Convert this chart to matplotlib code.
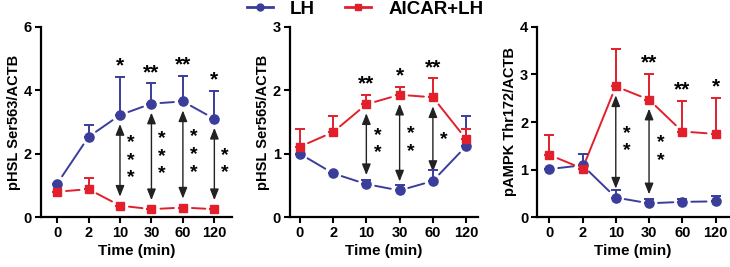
import matplotlib
matplotlib.use("Agg")
import matplotlib.pyplot as plt
from matplotlib.lines import Line2D

plt.rcParams['font.family'] = ['Liberation Sans', 'DejaVu Sans']
plt.rcParams['font.weight'] = 'bold'

times = ["0", "2", "10", "30", "60", "120"]

# Panel 1: pHSL Ser563/ACTB
p1_lh = [1.05, 2.53, 3.22, 3.58, 3.65, 3.10]
p1_lh_err = [0.0, 0.37, 1.20, 0.64, 0.80, 0.89]
p1_ai = [0.80, 0.88, 0.36, 0.25, 0.30, 0.25]
p1_ai_err = [0.0, 0.36, 0.0, 0.0, 0.0, 0.0]
p1_top_stars = {2: "*", 3: "**", 4: "**", 5: "*"}
p1_arrow_stars = {2: "***", 3: "***", 4: "***", 5: "**"}

# Panel 2: pHSL Ser565/ACTB
p2_lh = [1.00, 0.69, 0.52, 0.42, 0.57, 1.12]
p2_lh_err = [0.0, 0.0, 0.06, 0.08, 0.17, 0.48]
p2_ai = [1.11, 1.34, 1.78, 1.93, 1.89, 1.23]
p2_ai_err = [0.28, 0.25, 0.15, 0.12, 0.30, 0.16]
p2_top_stars = {2: "**", 3: "*", 4: "**"}
p2_arrow_stars = {2: "**", 3: "**", 4: "*"}

# Panel 3: pAMPK Thr172/ACTB
p3_lh = [1.01, 1.09, 0.41, 0.29, 0.32, 0.33]
p3_lh_err = [0.0, 0.24, 0.16, 0.08, 0.07, 0.12]
p3_ai = [1.31, 1.02, 2.75, 2.47, 1.80, 1.75]
p3_ai_err = [0.42, 0.0, 0.79, 0.55, 0.65, 0.76]
p3_top_stars = {3: "**", 4: "**", 5: "*"}
p3_arrow_stars = {2: "**", 3: "**"}

BLUE = "#3a3d9a"
RED = "#e2202c"

panels = [
    dict(lh=p1_lh, lhe=p1_lh_err, ai=p1_ai, aie=p1_ai_err, top=p1_top_stars, arr=p1_arrow_stars,
         ylabel="pHSL Ser563/ACTB", ymax=6, yticks=[0, 2, 4, 6], xlim=(-0.51, 5.57),
         rect=[0.0562, 0.187, 0.262, 0.712]),
    dict(lh=p2_lh, lhe=p2_lh_err, ai=p2_ai, aie=p2_ai_err, top=p2_top_stars, arr=p2_arrow_stars,
         ylabel="pHSL Ser565/ACTB", ymax=3, yticks=[0, 1, 2, 3], xlim=(-0.3, 5.36),
         rect=[0.397, 0.187, 0.258, 0.712]),
    dict(lh=p3_lh, lhe=p3_lh_err, ai=p3_ai, aie=p3_ai_err, top=p3_top_stars, arr=p3_arrow_stars,
         ylabel="pAMPK Thr172/ACTB", ymax=4, yticks=[0, 1, 2, 3, 4], xlim=(-0.36, 5.39),
         rect=[0.736, 0.187, 0.262, 0.712]),
]

fig = plt.figure(figsize=(7.3, 2.67), dpi=100)

def gapped_line(ax, xs, ys, color):
    for i in range(len(xs) - 1):
        ax.annotate("", xy=(xs[i + 1], ys[i + 1]), xytext=(xs[i], ys[i]),
                    arrowprops=dict(arrowstyle="-", color=color, lw=1.4,
                                    shrinkA=6.5, shrinkB=6.5), zorder=2)

for p in panels:
    ax = fig.add_axes(p["rect"])
    x = list(range(len(times)))
    for vals, errs, col, mk, ms in [(p["lh"], p["lhe"], BLUE, "o", 6.6),
                                     (p["ai"], p["aie"], RED, "s", 6.0)]:
        gapped_line(ax, x, vals, col)
        ax.errorbar(x, vals, yerr=[[0] * len(errs), errs], fmt="none", ecolor=col,
                    elinewidth=1.4, capsize=3.4, capthick=1.4, zorder=3)
        ax.plot(x, vals, linestyle="none", marker=mk, color=col, markersize=ms, zorder=4)
    for i, s in p["top"].items():
        top = max(p["lh"][i] + p["lhe"][i], p["ai"][i] + p["aie"][i])
        ax.annotate(s, xy=(i, top), xytext=(0, 1), textcoords="offset points",
                    ha="center", va="bottom", fontsize=15, fontweight="bold")
    for i, s in p["arr"].items():
        hi = max(p["lh"][i], p["ai"][i])
        lo = min(p["lh"][i], p["ai"][i])
        ax.annotate("", xy=(i, lo), xytext=(i, hi),
                    arrowprops=dict(arrowstyle="<|-|>,head_length=0.55,head_width=0.22",
                                    color="#222222", lw=1.0, shrinkA=6.5, shrinkB=6.5,
                                    mutation_scale=12), zorder=2)
        ax.text(i + 0.34, (hi + lo) / 2, "\n".join(s), ha="center", va="center",
                fontsize=14, linespacing=1.05, fontweight="bold")
    ax.set_xlim(*p["xlim"])
    ax.set_ylim(0, p["ymax"])
    ax.set_yticks(p["yticks"])
    ax.set_xticks(x)
    ax.set_xticklabels(times)
    ax.tick_params(axis="both", width=1.5, length=4.5, labelsize=10.5, pad=2)
    for lab in ax.get_xticklabels() + ax.get_yticklabels():
        lab.set_fontweight("bold")
    for sp in ["top", "right"]:
        ax.spines[sp].set_visible(False)
    for sp in ["left", "bottom"]:
        ax.spines[sp].set_linewidth(1.6)
    ax.set_ylabel(p["ylabel"], fontsize=10.5, fontweight="bold", labelpad=2)
    ax.set_xlabel("Time (min)", fontsize=11, fontweight="bold", labelpad=3)

handles = [Line2D([], [], color=BLUE, marker="o", markersize=5, lw=2.0),
           Line2D([], [], color=RED, marker="s", markersize=5, lw=2.0)]
fig.legend(handles, ["LH", "AICAR+LH"], loc="center", bbox_to_anchor=(0.5, 0.965),
           ncol=2, frameon=False, handlelength=1.4, columnspacing=1.6,
           prop=dict(size=13.5, weight="bold"), handletextpad=0.9)

fig.savefig("out.png", dpi=100)
